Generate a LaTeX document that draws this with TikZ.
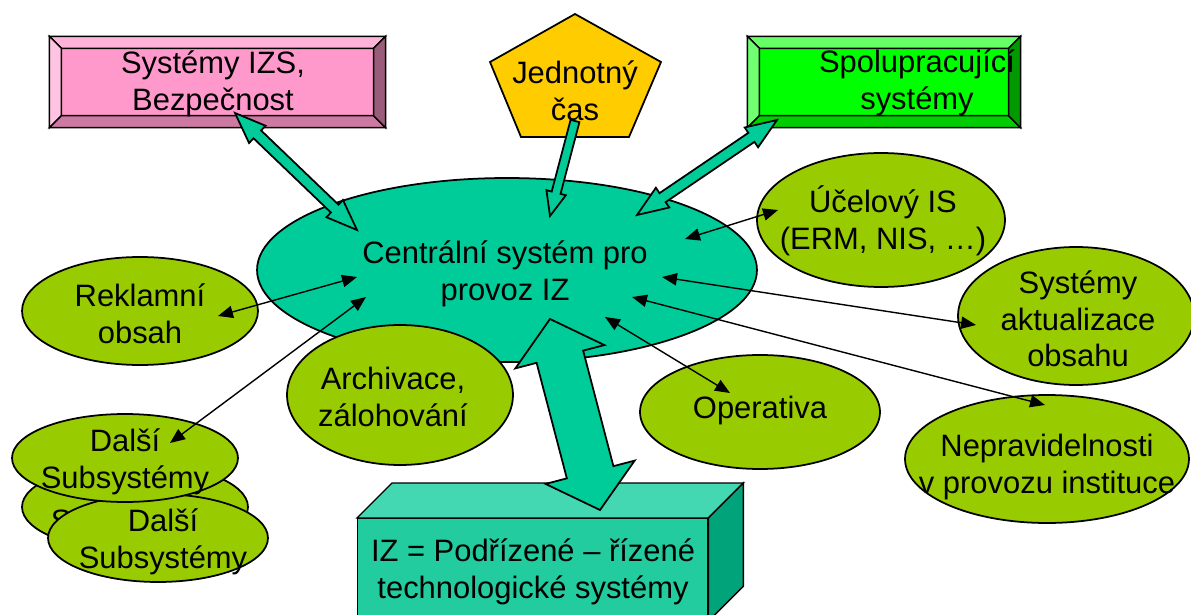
\documentclass[tikz,border=0pt]{standalone}
\usepackage{fontspec}
\setmainfont{Liberation Sans}
\usetikzlibrary{shapes.geometric,arrows.meta,calc}
\definecolor{centc}{HTML}{00CC99}
\definecolor{gellc}{HTML}{99CC00}
\definecolor{pinkface}{HTML}{FF99CC}
\definecolor{pinktop}{HTML}{FFB3D9}
\definecolor{pinkleft}{HTML}{FFC4E1}
\definecolor{pinkbot}{HTML}{CC7AA3}
\definecolor{pinkright}{HTML}{995C7A}
\definecolor{grface}{HTML}{00FF00}
\definecolor{grtop}{HTML}{66FF66}
\definecolor{grleft}{HTML}{70FF70}
\definecolor{grbot}{HTML}{00CC00}
\definecolor{grright}{HTML}{009900}
\definecolor{yel}{HTML}{FFCC00}
\definecolor{boxfront}{HTML}{22CC9E}
\definecolor{boxtop}{HTML}{44D8B2}
\definecolor{boxside}{HTML}{00A37A}
\newcommand{\blockdbl}[5]{%
  \path ($(#1)!#3!(#2)$) coordinate (h1) ($(#2)!#3!(#1)$) coordinate (h2);
  \filldraw[blockarrow] (#1) -- ($(h1)!#4!90:(#2)$) -- ($(h1)!#5!90:(#2)$)
    -- ($(h2)!#5!-90:(#1)$) -- ($(h2)!#4!-90:(#1)$) -- (#2)
    -- ($(h2)!#4!90:(#1)$) -- ($(h2)!#5!90:(#1)$)
    -- ($(h1)!#5!-90:(#2)$) -- ($(h1)!#4!-90:(#2)$) -- cycle;}
\newcommand{\blocksgl}[5]{% tail, tip
  \path ($(#2)!#3!(#1)$) coordinate (hh);
  \filldraw[blockarrow] ($(#1)!#5!90:(#2)$) -- ($(hh)!#5!-90:(#1)$) -- ($(hh)!#4!-90:(#1)$)
    -- (#2) -- ($(hh)!#4!90:(#1)$) -- ($(hh)!#5!90:(#1)$) -- ($(#1)!#5!-90:(#2)$) -- cycle;}
\begin{document}
\begin{tikzpicture}[x=0.02cm,y=-0.02cm,
  every node/.style={font=\fontsize{17.6}{20.8}\selectfont, align=center, inner sep=0pt},
  gellipse/.style={ellipse, draw=black, line width=1pt, fill=gellc},
  blockarrow/.style={fill=centc, draw=black, line width=1pt, line join=miter},
  thinarr/.style={draw=black, line width=0.8pt, {Triangle[length=8.5pt,width=7pt]}-{Triangle[length=8.5pt,width=7pt]}},
  facet/.style={draw=black, line width=0.8pt, line join=miter}]
\useasboundingbox (0,0) rectangle (1191,615);
\clip (0,0) rectangle (1191,615);
\fill[white] (0,0) rectangle (1191,615);

% central ellipse
\node[ellipse, draw=black, line width=1pt, fill=centc, minimum width=10cm, minimum height=3.68cm] (cent) at (507,270) {};
\node (cent-t) at (505,274) {Centrální systém pro\\provoz IZ};

% green ellipses
\node[gellipse, minimum width=4.72cm, minimum height=2.16cm] (rek) at (140,311) {};
\node (rek-t) at (140,314) {Reklamní\\obsah};
\node[gellipse, minimum width=4.96cm, minimum height=2.68cm] (uce) at (881,220) {};
\node (uce-t) at (883,221) {Účelový IS\\(ERM, NIS, …)};
\node[gellipse, minimum width=4.72cm, minimum height=2.76cm] (akt) at (1076,316) {};
\node (akt-t) at (1078,319) {Systémy\\aktualizace\\obsahu};
\node[gellipse, minimum width=5.68cm, minimum height=2.56cm] (nep) at (1047,459) {};
\node (nep-t) at (1047,467) {Nepravidelnosti\\v provozu instituce};
\node[gellipse, minimum width=4.8cm, minimum height=2.28cm] (ope) at (760,412) {};
\node (ope-t) at (760,411) {Operativa};
\node[gellipse, minimum width=4.52cm, minimum height=2.8cm] (arc) at (400,395) {};
\node (arc-t) at (393,397) {Archivace,\\zálohování};

% stacked ellipses
\node[gellipse, minimum width=4.52cm, minimum height=1.76cm] (dal2) at (135,507) {};
\node (dal2-t) at (135,505) {Další\\Subsystémy};
\node[gellipse, minimum width=4.4cm, minimum height=1.76cm] (dal3) at (158,538) {};
\node (dal3-t) at (163,542) {Další\\Subsystémy};
\node[gellipse, minimum width=4.52cm, minimum height=1.76cm] (dal1) at (125,458) {};
\node (dal1-t) at (125,462) {Další\\Subsystémy};

% pink bevel box
\node[draw=black, line width=0.8pt, fill=pinkface, minimum width=6.7cm, minimum height=1.8cm] (izs) at (217.5,82) {};
\filldraw[facet, fill=pinktop] (izs.north west) -- (izs.north east) -- ($(izs.north east)+(-12,12)$) -- ($(izs.north west)+(12,12)$) -- cycle;
\filldraw[facet, fill=pinkleft] (izs.north west) -- ($(izs.north west)+(12,12)$) -- ($(izs.south west)+(12,-12)$) -- (izs.south west) -- cycle;
\filldraw[facet, fill=pinkbot] (izs.south west) -- ($(izs.south west)+(12,-12)$) -- ($(izs.south east)+(-12,-12)$) -- (izs.south east) -- cycle;
\filldraw[facet, fill=pinkright] (izs.north east) -- (izs.south east) -- ($(izs.south east)+(-12,-12)$) -- ($(izs.north east)+(-12,12)$) -- cycle;
\node (izs-t) at (213,84) {Systémy IZS,\\Bezpečnost};

% green bevel box
\node[draw=black, line width=0.8pt, fill=grface, minimum width=5.44cm, minimum height=1.8cm] (spol) at (884,82) {};
\filldraw[facet, fill=grtop] (spol.north west) -- (spol.north east) -- ($(spol.north east)+(-12,12)$) -- ($(spol.north west)+(12,12)$) -- cycle;
\filldraw[facet, fill=grleft] (spol.north west) -- ($(spol.north west)+(12,12)$) -- ($(spol.south west)+(12,-12)$) -- (spol.south west) -- cycle;
\filldraw[facet, fill=grbot] (spol.south west) -- ($(spol.south west)+(12,-12)$) -- ($(spol.south east)+(-12,-12)$) -- (spol.south east) -- cycle;
\filldraw[facet, fill=grright] (spol.north east) -- (spol.south east) -- ($(spol.south east)+(-12,-12)$) -- ($(spol.north east)+(-12,12)$) -- cycle;
\node (spol-t) at (917,83) {Spolupracující\\systémy};

% pentagon
\filldraw[draw=black, line width=1pt, fill=yel, line join=miter] (575,14) -- (661,62) -- (629,137) -- (521,137) -- (490,62) -- cycle;
\node (jc) at (575,91) {Jednotný\\čas};

% 3D box
\node[draw=black, line width=0.8pt, fill=boxfront, minimum width=7cm, minimum height=2.04cm, anchor=north west] (iz) at (357,518) {};
\filldraw[facet, fill=boxtop] (iz.north west) -- ($(iz.north west)+(35,-35)$) -- ($(iz.north east)+(35,-35)$) -- (iz.north east) -- cycle;
\filldraw[facet, fill=boxside] (iz.north east) -- ($(iz.north east)+(35,-35)$) -- ($(iz.south east)+(35,-35)$) -- (iz.south east) -- cycle;
\node (iz-t) at (533,572) {IZ = Podřízené – řízené\\technologické systémy};

% block arrow end points
\coordinate (izs-a) at (235,113);
\coordinate (cent-a1) at (357,230);
\coordinate (jc-a) at (575,121);
\coordinate (cent-a2) at (550,216);
\coordinate (spol-a) at (777,120);
\coordinate (cent-a3) at (637,215);
\coordinate (cent-a4) at (550,319);
\coordinate (iz-a) at (600,510);

\blockdbl{izs-a}{cent-a1}{17.6pt}{6.8pt}{3.1pt}
\blocksgl{jc-a}{cent-a2}{13.7pt}{5.7pt}{2.6pt}
\blockdbl{spol-a}{cent-a3}{17.6pt}{6.8pt}{3.1pt}
\blockdbl{cent-a4}{iz-a}{22.2pt}{26.2pt}{13.7pt}

% thin arrows
\coordinate (rek-p) at (218,316);  \coordinate (cent-p1) at (357,277);
\coordinate (dal-p) at (170,443);  \coordinate (cent-p2) at (366,297);
\coordinate (uce-p) at (778,210);  \coordinate (cent-p3) at (685,239);
\coordinate (akt-p) at (976,325);  \coordinate (cent-p4) at (662,277);
\coordinate (nep-p) at (1045,405); \coordinate (cent-p5) at (632,297);
\coordinate (ope-p) at (730,393);  \coordinate (cent-p6) at (605,317);
\draw[thinarr] (rek-p) -- (cent-p1);
\draw[thinarr] (dal-p) -- (cent-p2);
\draw[thinarr] (uce-p) -- (cent-p3);
\draw[thinarr] (akt-p) -- (cent-p4);
\draw[thinarr] (nep-p) -- (cent-p5);
\draw[thinarr] (ope-p) -- (cent-p6);
\end{tikzpicture}
\end{document}
